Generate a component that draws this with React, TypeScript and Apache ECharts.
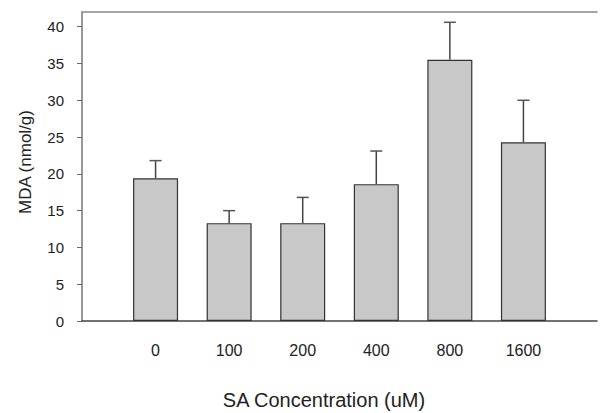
import React, { useEffect, useRef } from "react";
import * as echarts from "echarts";

const categories = ["0", "100", "200", "400", "800", "1600"];
const means = [19.4, 13.3, 13.3, 18.6, 35.5, 24.3];
const errors = [2.4, 1.7, 3.5, 4.5, 5.1, 5.7];
const yTicks = [0, 5, 10, 15, 20, 25, 30, 35, 40];

export default function App() {
  const ref = useRef<HTMLDivElement>(null);
  useEffect(() => {
    if (!ref.current) return;
    const chart = echarts.init(ref.current, undefined, { renderer: "svg" });
    const axisCats = ["", ...categories, ""];
    const barData = [null, ...means, null];
    const errData = means.map((m, i) => [i + 1, m, m + errors[i]]);
    const font = "Liberation Sans, Arial, sans-serif";
    chart.setOption({
      animation: false,
      grid: { left: 82, right: -3.5, top: 12, bottom: 92, containLabel: false },
      xAxis: [
        {
          type: "category",
          data: axisCats,
          boundaryGap: false,
          axisLine: { show: true, lineStyle: { color: "#444", width: 1.5 } },
          axisTick: { show: false },
          axisLabel: { color: "#222", fontSize: 16, fontFamily: font, margin: 21 },
          splitLine: { show: false },
        },
        {
          type: "category",
          data: axisCats,
          boundaryGap: false,
          position: "top",
          axisLine: { show: true, onZero: false, lineStyle: { color: "#888", width: 1.5 } },
          axisTick: { show: false },
          axisLabel: { show: false },
        },
      ],
      yAxis: {
        type: "value",
        min: 0,
        max: 42,
        interval: 5,
        axisLine: { show: true, lineStyle: { color: "#777", width: 1.5 } },
        axisTick: { show: true, length: 5, customValues: yTicks, lineStyle: { color: "#666" } },
        axisLabel: { color: "#222", fontSize: 15, fontFamily: font, margin: 18, customValues: yTicks },
        splitLine: { show: false },
      },
      series: [
        {
          type: "bar",
          data: barData,
          barWidth: 45,
          itemStyle: { color: "#c8c8c8", borderColor: "#333", borderWidth: 1.2 },
          z: 2,
        },
        {
          type: "custom",
          data: errData,
          z: 3,
          renderItem: (params: any, api: any) => {
            const x = api.value(0);
            const lo = api.coord([x, api.value(1)]);
            const hi = api.coord([x, api.value(2)]);
            const cap = 6;
            return {
              type: "group",
              children: [
                {
                  type: "line",
                  shape: { x1: lo[0], y1: lo[1], x2: hi[0], y2: hi[1] },
                  style: { stroke: "#444", lineWidth: 1.5 },
                },
                {
                  type: "line",
                  shape: { x1: hi[0] - cap, y1: hi[1], x2: hi[0] + cap, y2: hi[1] },
                  style: { stroke: "#555", lineWidth: 1.5 },
                },
              ],
            };
          },
        },
      ],
      graphic: [
        {
          type: "text",
          x: 25,
          y: 162,
          rotation: Math.PI / 2,
          style: {
            text: "MDA (nmol/g)",
            fontSize: 17,
            fontFamily: font,
            fill: "#222",
            textAlign: "center",
            textVerticalAlign: "middle",
          },
        },
        {
          type: "text",
          x: 324,
          y: 400,
          style: {
            text: "SA Concentration (uM)",
            fontSize: 20,
            fontFamily: font,
            fill: "#222",
            textAlign: "center",
            textVerticalAlign: "middle",
          },
        },
      ],
    });
    return () => chart.dispose();
  }, []);
  return (
    <div
      ref={ref}
      style={{ position: "fixed", left: 0, top: 0, width: 600, height: 413, background: "#fff" }}
    />
  );
}
